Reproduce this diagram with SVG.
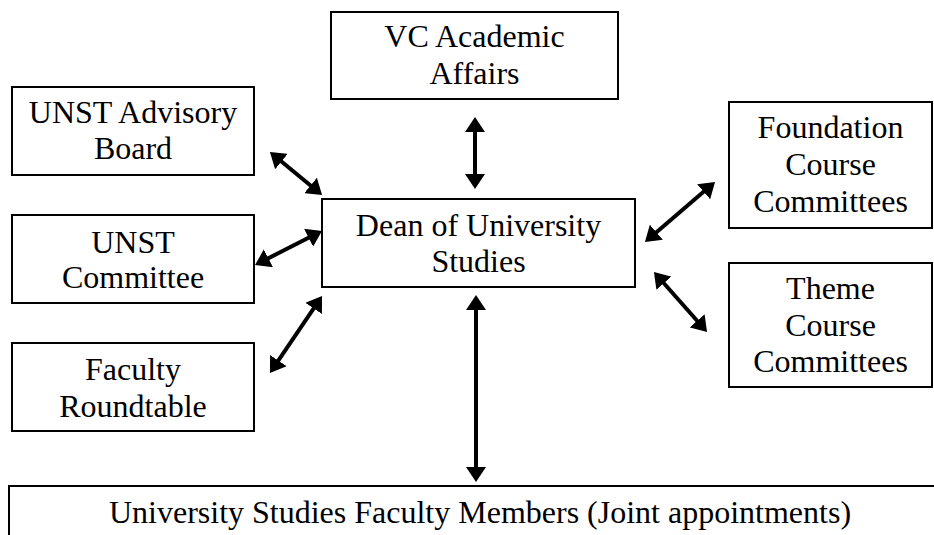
<svg xmlns="http://www.w3.org/2000/svg" width="934" height="535" viewBox="0 0 934 535">
<style>
.box{fill:#fff;stroke:#000;stroke-width:2}
.c{stroke:#000;stroke-width:4;fill:none;marker-start:url(#ah);marker-end:url(#ah)}
</style>
<defs>
<marker id="ah" markerUnits="userSpaceOnUse" markerWidth="15" markerHeight="20" viewBox="0 0 15 20" refX="11" refY="10" orient="auto-start-reverse">
<path d="M0,0 L15,10 L0,20 z" fill="#000"/>
</marker>
</defs>
<rect width="934" height="535" fill="#fff"/>
<g id="vc"><rect class="box" x="331" y="12" width="287" height="87"/><text font-family="Liberation Serif" font-size="32" text-anchor="middle" x="474.5" y="47">VC Academic</text><text font-family="Liberation Serif" font-size="32" text-anchor="middle" x="474.5" y="84">Affairs</text></g>
<g id="advisory"><rect class="box" x="12" y="87" width="242" height="88"/><text font-family="Liberation Serif" font-size="32" text-anchor="middle" x="133" y="123">UNST Advisory</text><text font-family="Liberation Serif" font-size="32" text-anchor="middle" x="133" y="159">Board</text></g>
<g id="dean"><rect class="box" x="322" y="199" width="313" height="88"/><text font-family="Liberation Serif" font-size="32" text-anchor="middle" x="478.5" y="236">Dean of University</text><text font-family="Liberation Serif" font-size="32" text-anchor="middle" x="478.5" y="272">Studies</text></g>
<g id="committee"><rect class="box" x="12" y="215" width="242" height="88"/><text font-family="Liberation Serif" font-size="32" text-anchor="middle" x="133" y="253">UNST</text><text font-family="Liberation Serif" font-size="32" text-anchor="middle" x="133" y="288">Committee</text></g>
<g id="roundtable"><rect class="box" x="12" y="343" width="242" height="88"/><text font-family="Liberation Serif" font-size="32" text-anchor="middle" x="133" y="380">Faculty</text><text font-family="Liberation Serif" font-size="32" text-anchor="middle" x="133" y="417">Roundtable</text></g>
<g id="foundation"><rect class="box" x="729" y="102" width="203" height="126"/><text font-family="Liberation Serif" font-size="32" text-anchor="middle" x="830.5" y="138">Foundation</text><text font-family="Liberation Serif" font-size="32" text-anchor="middle" x="830.5" y="175">Course</text><text font-family="Liberation Serif" font-size="32" text-anchor="middle" x="830.5" y="212">Committees</text></g>
<g id="theme"><rect class="box" x="729" y="263" width="203" height="124"/><text font-family="Liberation Serif" font-size="32" text-anchor="middle" x="830.5" y="299">Theme</text><text font-family="Liberation Serif" font-size="32" text-anchor="middle" x="830.5" y="336">Course</text><text font-family="Liberation Serif" font-size="32" text-anchor="middle" x="830.5" y="372">Committees</text></g>
<g id="faculty"><rect class="box" x="9" y="486" width="940" height="60"/><text font-family="Liberation Serif" font-size="32" text-anchor="middle" x="480" y="523">University Studies Faculty Members (Joint appointments)</text></g>
<g id="connectors">
<line class="c" x1="475" y1="121" x2="475" y2="185"/>
<line class="c" x1="273" y1="154.5" x2="319" y2="192.5"/>
<line class="c" x1="258.6" y1="263.2" x2="318.4" y2="232.8"/>
<line class="c" x1="272.2" y1="369.7" x2="319.8" y2="299.3"/>
<line class="c" x1="648" y1="239.4" x2="712" y2="184.6"/>
<line class="c" x1="656.6" y1="275" x2="704.4" y2="329"/>
<line class="c" x1="476" y1="299" x2="476" y2="478"/>
</g>
</svg>
